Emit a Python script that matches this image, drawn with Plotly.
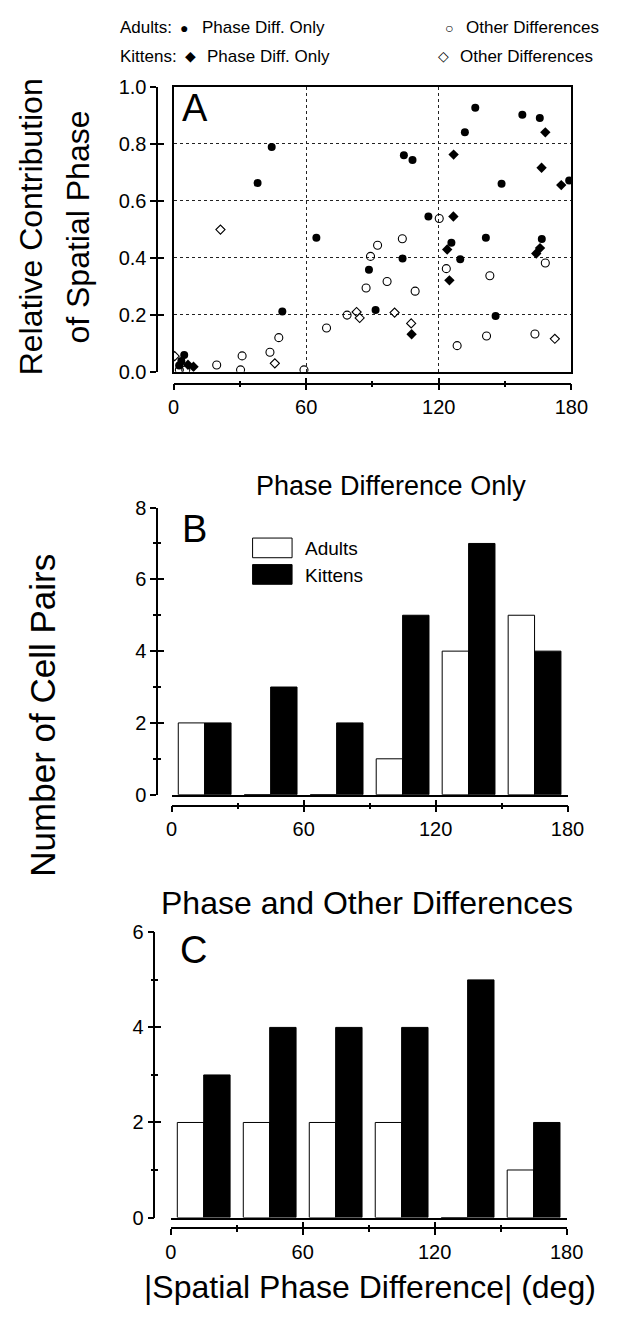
import plotly.graph_objects as go

W, H = 625, 1318
def px(x):
    return x / W
def py(y):
    return 1 - y / H

FONT = "Liberation Sans, Arial, Helvetica, sans-serif"

# ---------------- Panel A data ----------------
adult_phase_x = [44.4, 38.0, 64.6, 88.4, 49.2, 91.4, 4.8, 3.5, 2.5, 115.3, 103.6, 125.7,
                 129.7, 141.3, 166.6, 136.5, 131.8, 157.8, 165.7, 104.2, 108.1, 148.4,
                 179.0, 145.7]
adult_phase_y = [0.789, 0.662, 0.470, 0.358, 0.212, 0.217, 0.059, 0.038, 0.022, 0.545,
                 0.398, 0.453, 0.395, 0.470, 0.466, 0.926, 0.840, 0.902, 0.890, 0.760,
                 0.743, 0.660, 0.671, 0.196]

adult_other_x = [92.3, 89.1, 96.6, 87.1, 78.5, 69.2, 47.6, 43.6, 31.0, 19.5, 30.3, 59.0,
                 120.2, 103.5, 123.4, 143.1, 168.2, 109.3, 128.3, 141.6, 163.5, 2.6, 5.5]
adult_other_y = [0.444, 0.405, 0.317, 0.294, 0.199, 0.154, 0.120, 0.069, 0.056, 0.024,
                 0.007, 0.007, 0.538, 0.467, 0.362, 0.337, 0.382, 0.283, 0.092, 0.126,
                 0.133, 0.007, 0.007]

kitten_phase_x = [126.6, 123.8, 124.8, 107.7, 168.2, 126.7, 166.5, 175.4, 164.1, 165.8,
                  6.5, 9.0]
kitten_phase_y = [0.545, 0.429, 0.321, 0.132, 0.840, 0.762, 0.716, 0.655, 0.415, 0.434,
                  0.025, 0.018]

kitten_other_x = [21.2, 82.8, 84.2, 45.8, 100.0, 107.5, 172.5, 0.5]
kitten_other_y = [0.499, 0.210, 0.189, 0.030, 0.208, 0.170, 0.116, 0.055]

# ---------------- Panels B and C data ----------------
bin_centers = [15, 45, 75, 105, 135, 165]
b_adults = [2, 0, 0, 1, 4, 5]
b_kittens = [2, 3, 2, 5, 7, 4]
c_adults = [2, 2, 2, 2, 0, 1]
c_kittens = [3, 4, 4, 4, 5, 2]

x_major = [0, 60, 120, 180]
x_minor = [30, 90, 150]
a_y_ticks = [0.0, 0.2, 0.4, 0.6, 0.8, 1.0]
a_y_labels = ["0.0", "0.2", "0.4", "0.6", "0.8", "1.0"]

fig = go.Figure()

# Panel A scatter
fig.add_trace(go.Scatter(x=adult_other_x, y=adult_other_y, mode="markers",
                         marker=dict(symbol="circle-open", size=8, color="black",
                                     line=dict(width=1.1)),
                         xaxis="x", yaxis="y", showlegend=False))
fig.add_trace(go.Scatter(x=kitten_other_x, y=kitten_other_y, mode="markers",
                         marker=dict(symbol="diamond-open", size=7, color="black",
                                     line=dict(width=1.1)),
                         xaxis="x", yaxis="y", showlegend=False))
fig.add_trace(go.Scatter(x=adult_phase_x, y=adult_phase_y, mode="markers",
                         marker=dict(symbol="circle", size=8, color="black"),
                         xaxis="x", yaxis="y", showlegend=False))
fig.add_trace(go.Scatter(x=kitten_phase_x, y=kitten_phase_y, mode="markers",
                         marker=dict(symbol="diamond", size=8, color="black"),
                         xaxis="x", yaxis="y", showlegend=False))

# Panel B bars
fig.add_trace(go.Bar(x=bin_centers, y=b_adults, name="Adults",
                     marker=dict(color="white", line=dict(color="black", width=1)),
                     xaxis="x4", yaxis="y4", showlegend=False))
fig.add_trace(go.Bar(x=bin_centers, y=b_kittens, name="Kittens",
                     marker=dict(color="black", line=dict(color="black", width=1)),
                     xaxis="x4", yaxis="y4", showlegend=False))
# Panel C bars
fig.add_trace(go.Bar(x=bin_centers, y=c_adults, name="Adults",
                     marker=dict(color="white", line=dict(color="black", width=1)),
                     xaxis="x7", yaxis="y7", showlegend=False))
fig.add_trace(go.Bar(x=bin_centers, y=c_kittens, name="Kittens",
                     marker=dict(color="black", line=dict(color="black", width=1)),
                     xaxis="x7", yaxis="y7", showlegend=False))

# empty traces so the offset (detached) axes get drawn
for n in [2, 3, 5, 6, 8, 9]:
    fig.add_trace(go.Scatter(x=[None], y=[None], xaxis="x%d" % n, yaxis="y%d" % n,
                             showlegend=False, hoverinfo="skip"))

tickfont = dict(family=FONT, size=20, color="black")

# domains (pixel positions converted to paper fractions)
xA = [px(174), px(587)]
yA = [py(367), py(77)]
xB = [px(172), px(583)]
yB = [py(797), py(505)]
xC = [px(171), px(582)]
yC = [py(1227), py(937)]

layout = dict(
    width=W, height=H, margin=dict(l=0, r=0, t=0, b=0),
    paper_bgcolor="white", plot_bgcolor="white",
    barmode="group", bargap=0.2, bargroupgap=0,
    showlegend=False,
    font=dict(family=FONT, color="black"),
)

# Panel A frame axes with dotted grid
layout["xaxis"] = dict(domain=xA, range=[0, 180], anchor="y", showline=True, mirror=True,
                       linewidth=2, linecolor="black", tickmode="array", tickvals=[60, 120],
                       showticklabels=False, ticks="", showgrid=True, griddash="dot",
                       gridcolor="#222", gridwidth=1, zeroline=False)
layout["yaxis"] = dict(domain=yA, range=[0, 1], anchor="x", showline=True, mirror=True,
                       linewidth=2, linecolor="black", tickmode="array",
                       tickvals=[0.2, 0.4, 0.6, 0.8], showticklabels=False, ticks="",
                       showgrid=True, griddash="dot", gridcolor="#222", gridwidth=1,
                       zeroline=False)

# Panel B / C main axes (baseline only)
for n, xd, yd, yr in [(4, xB, yB, [0, 8]), (7, xC, yC, [0, 6])]:
    layout["xaxis%d" % n] = dict(domain=xd, range=[0, 180], anchor="y%d" % n,
                                 showline=True, linewidth=2, linecolor="black",
                                 showticklabels=False, ticks="", showgrid=False,
                                 zeroline=False)
    layout["yaxis%d" % n] = dict(domain=yd, range=yr, anchor="x%d" % n,
                                 showline=False, showticklabels=False, ticks="",
                                 showgrid=False, zeroline=False)

def offset_axes(base_n, out_n, in_n, x_pos_px, y_pos_px, yrange, ymaj, ylab, ymin):
    bx = "x" if base_n == 1 else "x%d" % base_n
    by = "y" if base_n == 1 else "y%d" % base_n
    for n, tick_dir, show in [(out_n, "outside", True), (in_n, "inside", False)]:
        layout["xaxis%d" % n] = dict(
            overlaying=bx, anchor="free", position=py(y_pos_px), side="bottom",
            range=[0, 180], tickmode="array", tickvals=x_major,
            ticktext=[str(v) for v in x_major], showticklabels=show, ticks=tick_dir,
            ticklen=6, tickwidth=1.5, tickcolor="black", tickfont=tickfont,
            showline=show, linewidth=1.5, linecolor="black", showgrid=False,
            zeroline=False,
            minor=dict(tickmode="array", tickvals=x_minor, ticks=tick_dir, ticklen=3,
                       tickwidth=1.5, tickcolor="black", showgrid=False))
        ydict = dict(
            overlaying=by, anchor="free", position=px(x_pos_px), side="left",
            range=yrange, tickmode="array", tickvals=ymaj, ticktext=ylab,
            showticklabels=show, ticks=tick_dir, ticklen=6, tickwidth=1.5,
            tickcolor="black", tickfont=tickfont, showline=show, linewidth=1.5,
            linecolor="black", showgrid=False, zeroline=False)
        if ymin:
            ydict["minor"] = dict(tickmode="array", tickvals=ymin, ticks=tick_dir,
                                  ticklen=3, tickwidth=1.5, tickcolor="black",
                                  showgrid=False)
        layout["yaxis%d" % n] = ydict

offset_axes(1, 2, 3, 157, 379, [0, 1], a_y_ticks, a_y_labels, None)
offset_axes(4, 5, 6, 157, 808, [0, 8], [0, 2, 4, 6, 8], ["0", "2", "4", "6", "8"],
            [1, 3, 5, 7])
offset_axes(7, 8, 9, 154, 1238, [0, 6], [0, 2, 4, 6], ["0", "2", "4", "6"], [1, 3, 5])

fig.update_layout(**layout)

annotations = []
def ann(text, x, y, size, xanchor="center", yanchor="middle", angle=0):
    annotations.append(dict(text=text, x=px(x), y=py(y), xref="paper", yref="paper",
                            showarrow=False, xanchor=xanchor, yanchor=yanchor,
                            textangle=angle,
                            font=dict(family=FONT, size=size, color="black")))

# Panel A legend
ann("Adults:", 116, 17, 17, xanchor="left")
ann("\u25CF", 185, 17, 14)
ann("Phase Diff. Only", 201, 17, 17, xanchor="left")
ann("\u25CB", 460, 17, 14)
ann("Other Differences", 476, 17, 17, xanchor="left")
ann("Kittens:", 116, 46, 17, xanchor="left")
ann("\u25C6", 192, 46, 14)
ann("Phase Diff. Only", 207, 46, 17, xanchor="left")
ann("\u25C7", 454, 46, 14)
ann("Other Differences", 469, 46, 17, xanchor="left")

# Panel letters
ann("A", 181, 99, 38, xanchor="left")
ann("B", 181, 527, 38, xanchor="left")
ann("C", 179, 955, 38, xanchor="left")

# Panel titles
ann("Phase Difference Only", 400, 483, 27)
ann("Phase and Other Differences", 375, 907, 32)

# Axis titles
ann("Relative Contribution", 26, 220, 32, angle=-90)
ann("of Spatial Phase", 75, 220, 32, angle=-90)
ann("Number of Cell Pairs", 37, 716, 35, angle=-90)
ann("|Spatial Phase Difference| (deg)", 378, 1298, 32)

# Panel B legend text
ann("Adults", 308, 547, 19, xanchor="left")
ann("Kittens", 308, 574, 19, xanchor="left")

fig.update_layout(annotations=annotations)

# Panel B legend swatches
shapes = [
    dict(type="rect", xref="paper", yref="paper", x0=px(256), x1=px(297), y0=py(556),
         y1=py(536), fillcolor="white", line=dict(color="black", width=1)),
    dict(type="rect", xref="paper", yref="paper", x0=px(256), x1=px(297), y0=py(583),
         y1=py(563), fillcolor="black", line=dict(color="black", width=1)),
]
fig.update_layout(shapes=shapes)

fig.write_html("out.html", config={"displayModeBar": False},
               post_script="document.body.style.margin='0';"
                           "document.body.style.padding='0';")
